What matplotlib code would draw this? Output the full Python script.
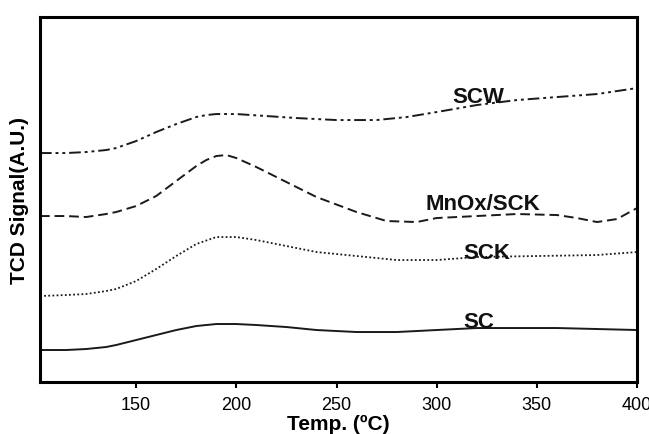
import matplotlib
matplotlib.use("Agg")
import matplotlib.pyplot as plt

plt.rcParams['font.family'] = ['Liberation Sans', 'DejaVu Sans']

# temperatures (C) and TCD signal (arbitrary units)
T_sc = [102, 115, 125, 135, 140, 150, 160, 170, 180, 190, 200, 210, 225, 240, 260, 280, 300, 320, 340, 360, 380, 400]
y_sc = [32, 32, 33, 35, 37, 42, 47, 52, 56, 58, 58, 57, 55, 52, 50, 50, 52, 54, 54, 54, 53, 52]

T_sck = [102, 115, 125, 135, 140, 150, 160, 170, 180, 190, 200, 210, 225, 240, 260, 280, 300, 320, 350, 380, 400]
y_sck = [86, 87, 88, 91, 93, 101, 113, 126, 138, 145, 145, 142, 136, 130, 126, 122, 122, 125, 126, 127, 130]

T_mn = [102, 115, 125, 135, 140, 150, 160, 170, 180, 185, 190, 195, 200, 210, 225, 240, 260, 275, 290, 300, 320, 340, 360, 370, 380, 390, 400]
y_mn = [166, 166, 165, 168, 170, 176, 186, 201, 216, 222, 226, 227, 224, 215, 200, 185, 170, 161, 160, 164, 166, 168, 167, 164, 160, 163, 174]

T_scw = [102, 115, 125, 135, 140, 150, 160, 170, 180, 185, 190, 200, 215, 230, 250, 270, 285, 300, 320, 340, 360, 380, 400]
y_scw = [229, 229, 230, 232, 234, 241, 250, 258, 265, 267, 268, 268, 266, 264, 262, 262, 265, 270, 277, 282, 285, 288, 294]

labels = ["SC", "SCK", "MnOx/SCK", "SCW"]
label_pos = [(321, 61), (325, 130), (323, 179), (321, 286)]

fig = plt.figure(figsize=(6.49, 4.35), dpi=100)
ax = fig.add_axes([0.0616, 0.1195, 0.92, 0.839])

lc = "#1a1a1a"
ax.plot(T_sc, y_sc, color=lc, lw=1.4, ls="-")
ax.plot(T_sck, y_sck, color=lc, lw=1.3, ls=(0, (1, 1.3)))
ax.plot(T_mn, y_mn, color=lc, lw=1.4, ls=(0, (5, 2.5)))
ax.plot(T_scw, y_scw, color=lc, lw=1.4, ls=(0, (6, 2, 1.5, 2, 1.5, 2)))

for lab, (x, y) in zip(labels, label_pos):
    ax.text(x, y, lab, fontsize=16, fontweight="bold", ha="center", va="center", color="#111111")

ax.set_xlim(102, 400)
ax.set_ylim(0, 365)
ax.set_xticks([150, 200, 250, 300, 350, 400])
ax.set_yticks([])
ax.tick_params(axis="x", labelsize=13, length=4, width=1.5, pad=6)
for s in ax.spines.values():
    s.set_linewidth(2.2)

ax.set_xlabel("Temp. (ºC)", fontsize=15, fontweight="bold", labelpad=1)
ax.set_ylabel("TCD Signal(A.U.)", fontsize=15, fontweight="bold", labelpad=8)

fig.savefig("out.png", dpi=100)
